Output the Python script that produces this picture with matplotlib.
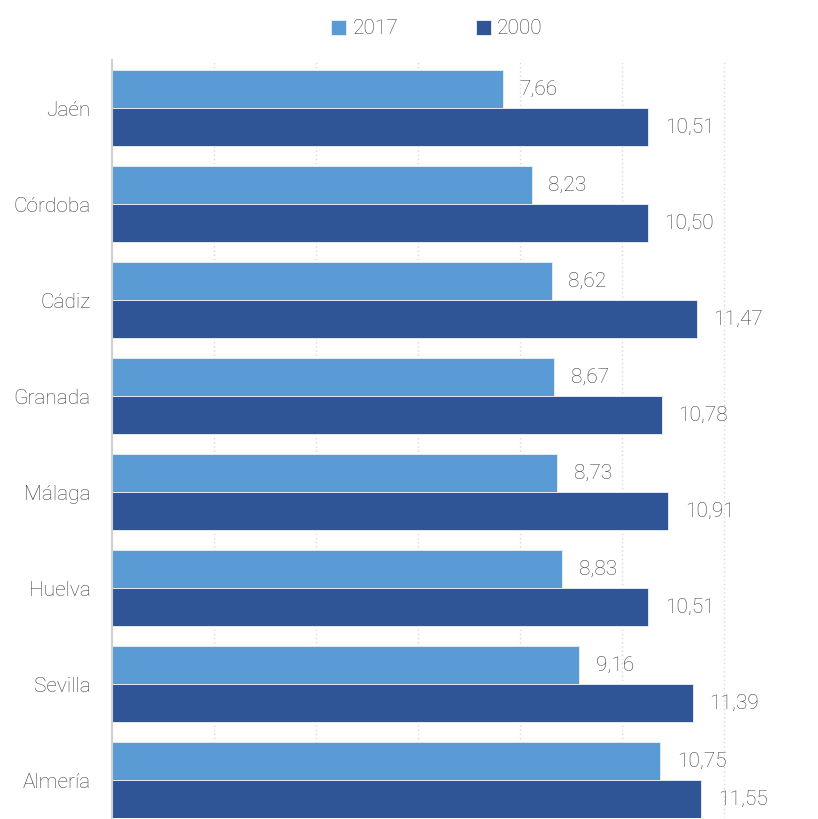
import matplotlib
matplotlib.use("Agg")
import matplotlib.pyplot as plt
import numpy as np

categories = ["Jaén", "Córdoba", "Cádiz", "Granada", "Málaga", "Huelva", "Sevilla", "Almería"]
values_2017 = [7.66, 8.23, 8.62, 8.67, 8.73, 8.83, 9.16, 10.75]
values_2000 = [10.51, 10.50, 11.47, 10.78, 10.91, 10.51, 11.39, 11.55]
series_names = ["2017", "2000"]
colors = ["#5B9BD5", "#2F5597"]

plt.rcParams['font.family'] = ['Roboto', 'DejaVu Sans']
text_color = "#404040"

W, H = 818, 819
fig = plt.figure(figsize=(W / 100, H / 100), dpi=100)
left, right, top, bottom = 112, 818, 60, 818
ax = fig.add_axes([left / W, 1 - bottom / H, (right - left) / W, (bottom - top) / H])

y = np.arange(len(categories))
h = 38 / 96
ax.barh(y - h / 2, values_2017, height=h, color=colors[0], edgecolor="#E3EAF4", linewidth=0.7, label=series_names[0], zorder=3)
ax.barh(y + h / 2, values_2000, height=h, color=colors[1], edgecolor="#E3EAF4", linewidth=0.7, label=series_names[1], zorder=3)

xmax = (right - left) / 51.0
ax.set_xlim(0, xmax)
ax.set_ylim(7 + h, -0.5)

ax.set_yticks(y)
ax.set_yticklabels(categories, fontsize=15, color=text_color, fontweight='light')
ax.tick_params(axis='y', length=0, pad=15.5)
ax.set_xticks([2, 4, 6, 8, 10, 12])
ax.tick_params(axis='x', length=0, labelbottom=False)
ax.grid(axis='x', color="#D9D9D9", linestyle=(0, (1, 2)), linewidth=1, zorder=0)

for s in ["top", "right", "bottom"]:
    ax.spines[s].set_visible(False)
ax.spines["left"].set_color("#D0D0D0")
ax.spines["left"].set_linewidth(1.5)
ax.spines["left"].set_zorder(4)

def fmt(v):
    return f"{v:.2f}".replace(".", ",")

for yi, v in zip(y - h / 2, values_2017):
    ax.annotate(fmt(v), (v, yi), xytext=(12, 0), textcoords="offset points",
                va="center", ha="left", fontsize=15, color=text_color, fontweight='light')
for yi, v in zip(y + h / 2, values_2000):
    ax.annotate(fmt(v), (v, yi), xytext=(12, 0), textcoords="offset points",
                va="center", ha="left", fontsize=15, color=text_color, fontweight='light')

leg = fig.legend(loc="center", bbox_to_anchor=(437 / W, 1 - 29 / H), ncol=2, frameon=False,
                 fontsize=15, handlelength=0.7, handleheight=0.7, handletextpad=0.3,
                 columnspacing=3.75, labelcolor=text_color)
for t in leg.get_texts():
    t.set_fontweight('light')

fig.savefig("out.png", dpi=100)
